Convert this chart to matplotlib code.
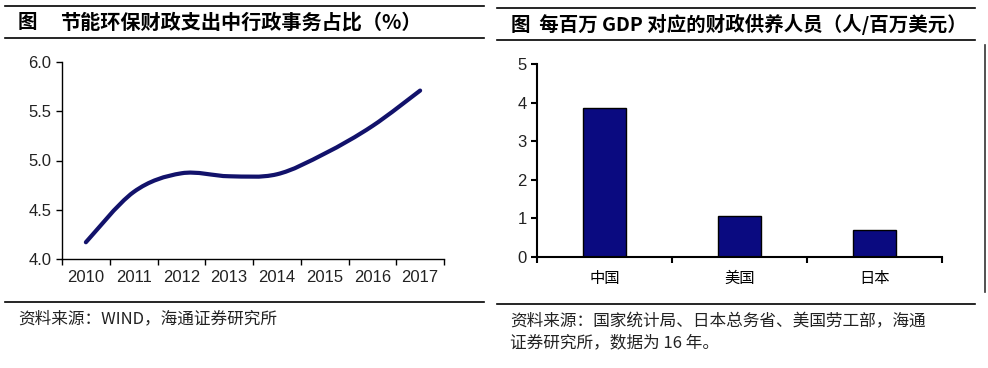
import matplotlib
matplotlib.use("Agg")
import matplotlib.pyplot as plt
import numpy as np
from matplotlib.path import Path
from matplotlib.patches import PathPatch
from matplotlib.lines import Line2D

plt.rcParams["font.family"] = ["Liberation Sans", "Noto Sans CJK SC", "DejaVu Sans"]

# left panel: share of administrative affairs in energy-saving/environment spending (%)
years = ["2010", "2011", "2012", "2013", "2014", "2015", "2016", "2017"]
share = [4.17, 4.68, 4.87, 4.84, 4.86, 5.07, 5.35, 5.71]

# right panel: fiscal staff per million USD GDP
countries = ["中国", "美国", "日本"]
staff = [3.86, 1.07, 0.70]

NAVY = "#12126b"
BAR = "#0a0a80"
CJK = ["Noto Sans CJK SC", "DejaVu Sans"]


def smooth_path(xs, ys):
    # Excel-style smoothed line as cubic bezier segments
    pts = np.column_stack([xs, ys]).astype(float)
    ext = np.vstack([pts[0], pts, pts[-1]])
    verts = [pts[0]]
    codes = [Path.MOVETO]
    for i in range(len(pts) - 1):
        p0, p1, p2, p3 = ext[i], ext[i + 1], ext[i + 2], ext[i + 3]
        c1 = p1 + (p2 - p0) / 6
        c2 = p2 - (p3 - p1) / 6
        verts += [c1, c2, p2]
        codes += [Path.CURVE4] * 3
    return Path(verts, codes)


fig = plt.figure(figsize=(9.88, 3.68), dpi=100)


def hline(x0, x1, y, lw=1.2):
    fig.add_artist(Line2D([x0 / 988, x1 / 988], [1 - y / 368, 1 - y / 368], color="black", lw=lw))


# title and source rules
hline(5, 484, 6)
hline(5, 484, 38)
hline(5, 484, 302)
hline(497, 975, 8)
hline(497, 975, 40)
hline(497, 975, 304)
fig.add_artist(Line2D([985 / 988, 985 / 988], [1 - 45 / 368, 1 - 292 / 368], color="#333333", lw=1.2))

fig.text(18 / 988, 1 - 22 / 368, "图", fontsize=14, family=CJK, va="center", weight="bold")
fig.text(60 / 988, 1 - 22 / 368, "节能环保财政支出中行政事务占比（%）", fontsize=14.5,
         family=CJK, va="center", weight="bold")
fig.text(511 / 988, 1 - 24 / 368, "图  每百万 GDP 对应的财政供养人员（人/百万美元）", fontsize=14,
         family=CJK, va="center", weight="bold")

fig.text(18 / 988, 1 - 319 / 368, "资料来源：WIND，海通证券研究所", fontsize=12, family=CJK,
         va="center", color="#222222")
fig.text(510 / 988, 1 - 322 / 368, "资料来源：国家统计局、日本总务省、美国劳工部，海通", fontsize=12,
         family=CJK, va="center", color="#222222")
fig.text(510 / 988, 1 - 343 / 368, "证券研究所，数据为 16 年。", fontsize=12, family=CJK,
         va="center", color="#222222")

# left line chart
ax1 = fig.add_axes([62 / 988, 1 - 259 / 368, (444 - 62) / 988, (259 - 62) / 368])
x = np.arange(len(years))
ax1.add_patch(PathPatch(smooth_path(x, share), fill=False, edgecolor=NAVY, lw=3.0,
                        capstyle="round", joinstyle="round"))
ax1.set_xlim(-0.5, len(years) - 0.5)
ax1.set_ylim(4.0, 6.0)
ax1.set_yticks(np.arange(4.0, 6.01, 0.5))
ax1.set_yticklabels([f"{v:.1f}" for v in np.arange(4.0, 6.01, 0.5)])
ax1.set_xticks(x)
ax1.set_xticklabels(years)
ax1.set_xticks(np.arange(-0.5, len(years)), minor=True)
ax1.tick_params(axis="x", which="major", length=0, pad=8, labelsize=12, colors="#222222")
ax1.tick_params(axis="x", which="minor", length=4, width=1, direction="out")
ax1.tick_params(axis="y", length=4, width=1, direction="out", labelsize=12, colors="#222222")
ax1.tick_params(axis="both", which="both", color="black")
for s in ["top", "right"]:
    ax1.spines[s].set_visible(False)
ax1.spines["left"].set_linewidth(1)
ax1.spines["bottom"].set_linewidth(1)

# right bar chart
ax2 = fig.add_axes([537 / 988, 1 - 257 / 368, (942 - 537) / 988, (257 - 64) / 368])
xb = np.arange(len(countries))
ax2.bar(xb, staff, width=0.32, color=BAR, edgecolor="black", linewidth=1)
ax2.set_xlim(-0.5, len(countries) - 0.5)
ax2.set_ylim(0, 5)
ax2.set_yticks(range(6))
ax2.set_xticks(xb)
ax2.set_xticklabels(countries, family=CJK)
ax2.set_xticks(np.arange(-0.5, len(countries)), minor=True)
ax2.tick_params(axis="x", which="major", length=0, pad=9, labelsize=11)
ax2.tick_params(axis="x", which="minor", length=4, width=1.5, direction="out")
ax2.tick_params(axis="y", length=4, width=1.5, direction="out", labelsize=12, colors="#222222")
ax2.tick_params(axis="both", which="both", color="black")
for s in ["top", "right"]:
    ax2.spines[s].set_visible(False)
ax2.spines["left"].set_linewidth(1.5)
ax2.spines["bottom"].set_linewidth(1.5)

fig.savefig("out.png", dpi=100)
